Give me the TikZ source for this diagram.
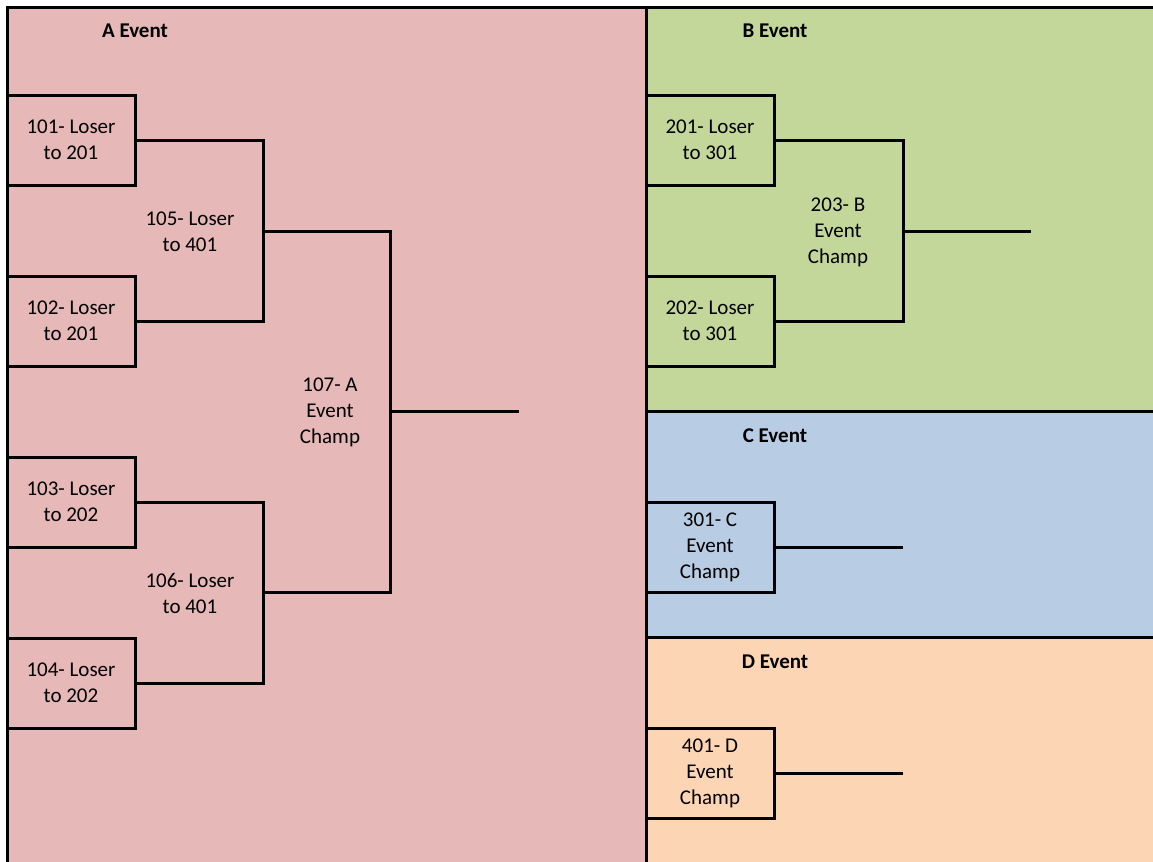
\documentclass[tikz,border=0pt]{standalone}
\usepackage{fontspec}
\setmainfont{Carlito}
\definecolor{apink}{HTML}{E6B8B7}
\definecolor{bgreen}{HTML}{C4D79B}
\definecolor{cblue}{HTML}{B8CCE4}
\definecolor{dorange}{HTML}{FCD5B4}
\begin{document}
\begin{tikzpicture}[x=0.75pt,y=-0.75pt,
  region/.style={draw=black,line width=2.25pt},
  matchbox/.style={draw=black,line width=2.25pt,rectangle,minimum width=96pt,minimum height=67.5pt,inner sep=0pt,align=center,font=\fontsize{15.75}{19.5}\selectfont},
  winner/.style={inner sep=0pt,align=center,font=\fontsize{15.75}{19.5}\selectfont},
  title/.style={inner sep=0pt,font=\fontsize{15.75}{19.5}\selectfont\bfseries},
  wire/.style={draw=black,line width=2.25pt}]
\clip (0,0) rectangle (1153,861);
\fill[white] (0,0) rectangle (1153,861);
% regions
\filldraw[region,fill=apink] (7,7) rectangle (646,880);
\filldraw[region,fill=bgreen] (646,7) rectangle (1170,411);
\filldraw[region,fill=cblue] (646,411) rectangle (1170,637);
\filldraw[region,fill=dorange] (646,637) rectangle (1170,880);
% titles
\node[title] (tA) at (135,31) {A Event};
\node[title] (tB) at (775,31) {B Event};
\node[title] (tC) at (775,436) {C Event};
\node[title] (tD) at (775,662) {D Event};
% A event boxes
\node[matchbox] (b101) at (71,140) {101- Loser\\to 201};
\node[matchbox] (b102) at (71,321) {102- Loser\\to 201};
\node[matchbox] (b103) at (71,502) {103- Loser\\to 202};
\node[matchbox] (b104) at (71,683) {104- Loser\\to 202};
\node[winner] (w105) at (190,232) {105- Loser\\to 401};
\node[winner] (w106) at (190,593) {106- Loser\\to 401};
\node[winner] (w107) at (330,412) {107- A\\Event\\Champ};
\coordinate (j105) at (263,231);
\coordinate (j106) at (263,592);
\coordinate (j107) at (390,411);
\coordinate (e107) at (519,411);
\draw[wire] (b101.east) -| (j105) |- (b102.east);
\draw[wire] (b103.east) -| (j106) |- (b104.east);
\draw[wire] (j105) -| (j107) |- (j106);
\draw[wire] (j107) -- (e107);
% B event
\node[matchbox] (b201) at (710,140) {201- Loser\\to 301};
\node[matchbox] (b202) at (710,321) {202- Loser\\to 301};
\node[winner] (w203) at (838,232) {203- B\\Event\\Champ};
\coordinate (j203) at (903,231);
\coordinate (e203) at (1031,231);
\draw[wire] (b201.east) -| (j203) |- (b202.east);
\draw[wire] (j203) -- (e203);
% C event
\node[matchbox] (b301) at (710,547) {301- C\\Event\\Champ};
\coordinate (e301) at (903,547);
\draw[wire] (b301.east) -- (e301);
% D event
\node[matchbox] (b401) at (710,773) {401- D\\Event\\Champ};
\coordinate (e401) at (903,773);
\draw[wire] (b401.east) -- (e401);
\end{tikzpicture}
\end{document}
